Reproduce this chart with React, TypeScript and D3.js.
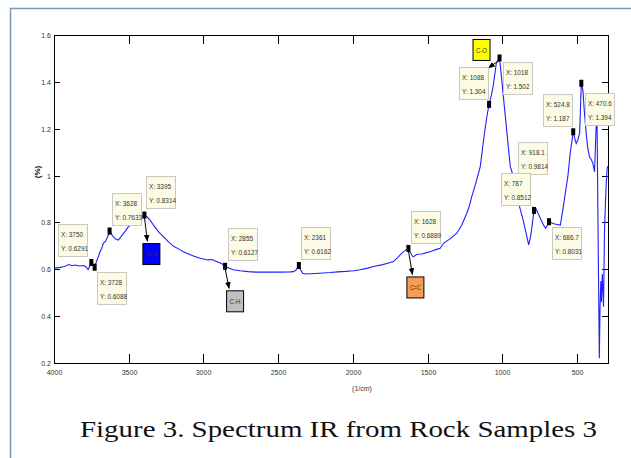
import React, { useRef, useEffect } from "react";
import * as d3 from "d3";

// IR spectrum (wavenumber in 1/cm, value in %)
const wavenumbers = [
  4000, 3960, 3930, 3900, 3880, 3860, 3830, 3800, 3785, 3772, 3760, 3750, 3740, 3728, 3712, 3700,
  3692, 3680, 3670, 3655, 3640, 3628, 3610, 3590, 3569, 3545, 3520, 3502, 3470, 3440, 3410, 3395,
  3375, 3357, 3330, 3300, 3268, 3230, 3200, 3160, 3134, 3080, 3022, 2970, 2940, 2925, 2911, 2880,
  2855, 2830, 2800, 2755, 2700, 2650, 2598, 2500, 2420, 2397, 2380, 2361, 2350, 2335, 2319, 2250,
  2200, 2152, 2100, 2050, 1996, 1950, 1900, 1862, 1800, 1760, 1728, 1700, 1672, 1640, 1628, 1615,
  1600, 1594, 1570, 1540, 1505, 1470, 1440, 1415, 1393, 1350, 1304, 1270, 1237, 1220, 1204, 1180,
  1147, 1125, 1103, 1088, 1070, 1058, 1040, 1030, 1018, 1005, 990, 968, 946, 918.1, 900, 884,
  860, 845, 823, 810, 801, 787, 775, 765, 740, 720, 709, 700, 686.7, 660, 640, 611,
  595, 578, 560, 545, 524.8, 515, 505, 495, 482, 470.6, 460, 450, 438, 428, 416, 405,
  393, 382, 372, 366, 356, 350, 345, 340, 336, 330, 322, 315, 305, 298, 293,
];
const percent = [
  0.605, 0.608, 0.612, 0.62, 0.615, 0.618, 0.614, 0.616, 0.61, 0.598, 0.615, 0.6291, 0.62, 0.6088, 0.64, 0.66,
  0.675, 0.69, 0.711, 0.72, 0.74, 0.7633, 0.745, 0.73, 0.725, 0.745, 0.765, 0.782, 0.795, 0.81, 0.825, 0.8314,
  0.822, 0.81, 0.785, 0.76, 0.739, 0.715, 0.698, 0.685, 0.675, 0.66, 0.647, 0.64, 0.642, 0.636, 0.633, 0.625,
  0.6127, 0.605, 0.598, 0.594, 0.59, 0.588, 0.588, 0.588, 0.589, 0.59, 0.597, 0.6162, 0.598, 0.583, 0.58, 0.582,
  0.584, 0.586, 0.589, 0.591, 0.594, 0.598, 0.605, 0.612, 0.62, 0.627, 0.633, 0.65, 0.669, 0.685, 0.6889, 0.672,
  0.656, 0.654, 0.664, 0.665, 0.671, 0.678, 0.685, 0.69, 0.711, 0.73, 0.754, 0.79, 0.839, 0.87, 0.91, 0.96,
  1.038, 1.151, 1.251, 1.304, 1.35, 1.393, 1.478, 1.49, 1.502, 1.42, 1.322, 1.18, 1.038, 0.9814, 0.93, 0.867,
  0.81, 0.768, 0.704, 0.74, 0.782, 0.8512, 0.86, 0.846, 0.81, 0.785, 0.775, 0.785, 0.8031, 0.795, 0.792, 0.789,
  0.85, 0.924, 1.0, 1.095, 1.187, 1.16, 1.137, 1.15, 1.18, 1.394, 1.364, 1.27, 1.18, 1.12, 1.08, 1.07,
  1.052, 1.016, 1.2, 1.28, 0.6, 0.22, 0.45, 0.55, 0.46, 0.58, 0.44, 0.78, 0.95, 1.03, 1.04,
];

// data tips
const tipX = [3750, 3728, 3628, 3395, 2855, 2361, 1628, 1088, 1018, 918.1, 787, 686.7, 524.8, 470.6];
const tipY = [0.6291, 0.6088, 0.7633, 0.8314, 0.6127, 0.6162, 0.6889, 1.304, 1.502, 0.9814, 0.8512, 0.8031, 1.187, 1.394];
// where each tip box sits relative to its marker
const tipDx = [-33, 2, 2, 2, 3, 2, 3, -30, 3, 4, -33, 3, -30, 4];
const tipDy = [-38, 5, -38, -39, -38, -38, -37, -37, 4, -38, -37, 5, -38, 10];

// functional group annotations
const groupLabels = ["N-H", "C-H", "C=C", "C-O"];
const groupAt = [3395, 2855, 1628, 1018];
const groupFill = ["#0000ff", "#c0c0c0", "#f79b55", "#ffff00"];
const groupDx = [-2, 1, -2, -27];
const groupDy = [28, 24, 28, -19];
const arrowEndDx = [3, 4, 4, -11];
const arrowEndDy = [26, 22, 26, 10];

const xTicks = [4000, 3500, 3000, 2500, 2000, 1500, 1000, 500];
const yTicks = [0.2, 0.4, 0.6, 0.8, 1, 1.2, 1.4, 1.6];

const App = () => {
  const svgRef = useRef<SVGSVGElement>(null);

  useEffect(() => {
    const svg = d3.select(svgRef.current);
    svg.selectAll("*").remove();

    const W = 631;
    const H = 458;
    const margin = { top: 35, right: 23, bottom: 95, left: 54 };
    const font = "'Liberation Sans', Arial, sans-serif";

    const x = d3.scaleLinear().domain([4000, 292]).range([margin.left, W - margin.right]);
    const y = d3.scaleLinear().domain([0.2, 1.6]).range([H - margin.bottom, margin.top]);

    svg.append("rect").attr("width", W).attr("height", H).attr("fill", "#fff");

    // outer frame
    svg
      .append("path")
      .attr("d", `M10.5,${H}V8.5H${W}`)
      .attr("fill", "none")
      .attr("stroke", "#7d95b5")
      .attr("stroke-width", 1.5);

    const defs = svg.append("defs");
    defs
      .append("clipPath")
      .attr("id", "plot-clip")
      .append("rect")
      .attr("x", margin.left)
      .attr("y", margin.top)
      .attr("width", W - margin.right - margin.left)
      .attr("height", H - margin.bottom - margin.top);
    defs
      .append("marker")
      .attr("id", "arrow")
      .attr("viewBox", "0 0 10 10")
      .attr("refX", 9)
      .attr("refY", 5)
      .attr("markerWidth", 7)
      .attr("markerHeight", 7)
      .attr("orient", "auto")
      .append("path")
      .attr("d", "M0,1L10,5L0,9z")
      .attr("fill", "#000");

    // axes: ticks inward on all four sides
    const g = svg.append("g").attr("font-family", font).attr("font-size", 7).attr("fill", "#333");
    const x0 = margin.left;
    const x1 = W - margin.right;
    const y0 = H - margin.bottom;
    const y1 = margin.top;

    xTicks.forEach((t) => {
      const px = Math.round(x(t)) + 0.5;
      g.append("line").attr("x1", px).attr("x2", px).attr("y1", y0).attr("y2", y0 - 9).attr("stroke", "#000");
      g.append("line").attr("x1", px).attr("x2", px).attr("y1", y1).attr("y2", y1 + 9).attr("stroke", "#000");
      g.append("text").attr("x", px).attr("y", y0 + 12).attr("text-anchor", "middle").text(t);
    });
    yTicks.forEach((t) => {
      const py = Math.round(y(t)) + 0.5;
      g.append("line").attr("x1", x0).attr("x2", x0 + 6).attr("y1", py).attr("y2", py).attr("stroke", "#000");
      g.append("line").attr("x1", x1).attr("x2", x1 - 6).attr("y1", py).attr("y2", py).attr("stroke", "#000");
      g.append("text").attr("x", x0 - 3).attr("y", py + 2.5).attr("text-anchor", "end").text(String(t));
    });

    // spectrum
    const pts = wavenumbers.map((w, i) => [w, percent[i]] as [number, number]);
    svg
      .append("path")
      .datum(pts)
      .attr("clip-path", "url(#plot-clip)")
      .attr("fill", "none")
      .attr("stroke", "#1f1fff")
      .attr("stroke-width", 1.1)
      .attr("d", d3.line<[number, number]>().x((d) => x(d[0])).y((d) => y(d[1])));

    svg
      .append("rect")
      .attr("x", x0 + 0.5)
      .attr("y", y1 + 0.5)
      .attr("width", x1 - x0)
      .attr("height", y0 - y1)
      .attr("fill", "none")
      .attr("stroke", "#000");

    // axis labels
    svg
      .append("text")
      .attr("transform", `translate(40,172) rotate(-90)`)
      .attr("text-anchor", "middle")
      .attr("font-family", font)
      .attr("font-size", 8)
      .attr("font-weight", "bold")
      .text("(%)");
    svg
      .append("text")
      .attr("x", 362)
      .attr("y", 391)
      .attr("text-anchor", "middle")
      .attr("font-family", font)
      .attr("font-size", 7)
      .attr("fill", "#333")
      .text("(1/cm)");

    // data tip markers
    const tips = tipX.map((v, i) => ({ x: v, y: tipY[i], dx: tipDx[i], dy: tipDy[i] }));
    svg
      .append("g")
      .selectAll("rect")
      .data(tips)
      .join("rect")
      .attr("x", (d) => x(d.x) - 2)
      .attr("y", (d) => y(d.y) - 3.5)
      .attr("width", 4)
      .attr("height", 7)
      .attr("fill", "#000");

    // group arrows and boxes
    groupLabels.forEach((label, i) => {
      const j = tipX.indexOf(groupAt[i]);
      const mx = x(tipX[j]);
      const my = y(tipY[j]);
      svg
        .append("line")
        .attr("x1", mx)
        .attr("y1", my + 2)
        .attr("x2", mx + arrowEndDx[i])
        .attr("y2", my + arrowEndDy[i])
        .attr("stroke", "#000")
        .attr("stroke-width", 1)
        .attr("marker-end", "url(#arrow)");
      const bx = mx + groupDx[i];
      const by = my + groupDy[i];
      svg
        .append("rect")
        .attr("x", bx + 0.5)
        .attr("y", by + 0.5)
        .attr("width", 17)
        .attr("height", 21)
        .attr("fill", groupFill[i])
        .attr("stroke", "#000");
      svg
        .append("text")
        .attr("x", bx + 9)
        .attr("y", by + 14)
        .attr("text-anchor", "middle")
        .attr("font-family", font)
        .attr("font-size", 8)
        .attr("fill", "#333")
        .attr("textLength", 11)
        .attr("lengthAdjust", "spacingAndGlyphs")
        .text(label);
    });

    // data tip boxes
    const boxes = svg
      .append("g")
      .selectAll("g")
      .data(tips)
      .join("g")
      .attr("transform", (d) => `translate(${Math.round(x(d.x) + d.dx)},${Math.round(y(d.y) + d.dy)})`);
    boxes
      .append("rect")
      .attr("x", 0.5)
      .attr("y", 0.5)
      .attr("width", 29)
      .attr("height", 32)
      .attr("fill", "#fcfce6")
      .attr("stroke", "#c9c9c0");
    // narrow MATLAB-style text: squeeze horizontally
    const tipText = boxes
      .append("g")
      .attr("transform", "translate(3,0) scale(0.8,1)")
      .attr("font-family", font)
      .attr("font-size", 8)
      .attr("fill", "#333");
    tipText
      .append("text")
      .attr("y", 13)
      .text((d) => `X: ${d.x}`);
    tipText
      .append("text")
      .attr("y", 27)
      .text((d) => `Y: ${d.y}`);

    // caption
    svg
      .append("text")
      .attr("x", 80)
      .attr("y", 437)
      .attr("font-family", "'Liberation Serif', 'DejaVu Serif', serif")
      .attr("font-size", 24)
      .attr("fill", "#111")
      .attr("textLength", 517)
      .attr("lengthAdjust", "spacingAndGlyphs")
      .text("Figure 3. Spectrum IR from Rock Samples 3");
  }, []);

  return (
    <svg
      ref={svgRef}
      width={631}
      height={458}
      style={{ position: "absolute", left: 0, top: 0 }}
    ></svg>
  );
};

export default App;
